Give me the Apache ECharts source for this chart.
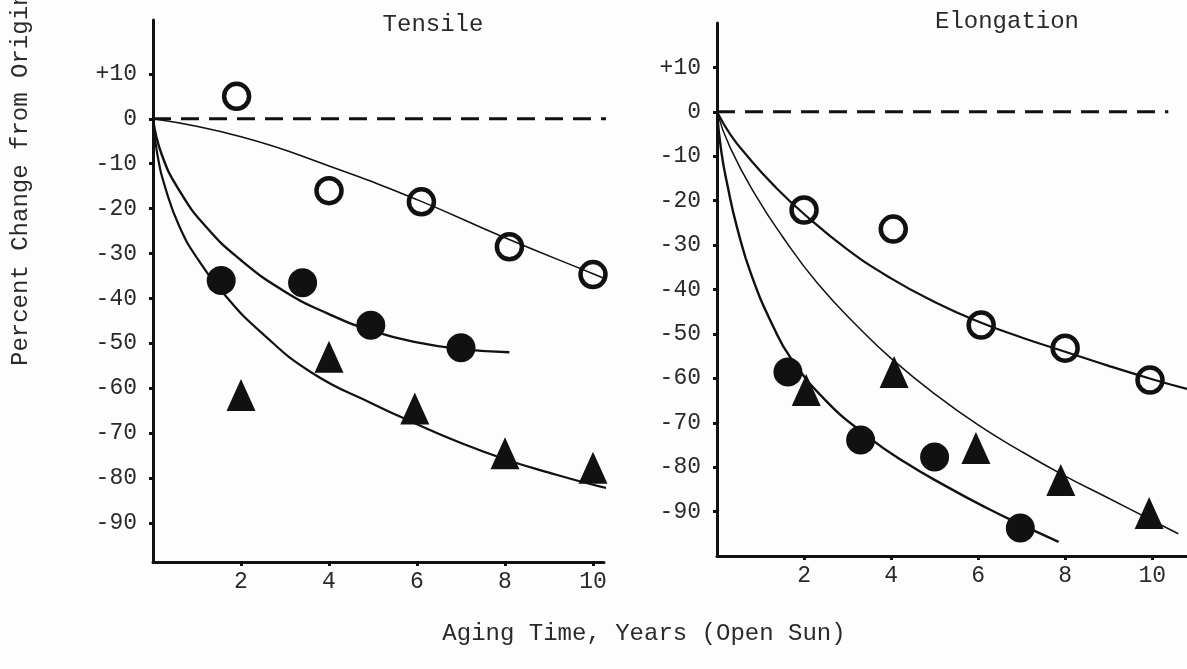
<!DOCTYPE html>
<html>
<head>
<meta charset="utf-8">
<script src="https://cdn.jsdelivr.net/npm/echarts@6/dist/echarts.min.js"></script>
<style>
  html, body { margin: 0; padding: 0; background: #fdfdfd; }
  #chart { width: 1187px; height: 669px; }
</style>
</head>
<body>
<div id="chart"></div>
<script>
// Axis ticks (years and percent change)
const yearTicks = [2, 4, 6, 8, 10];
const percentTicks = [10, 0, -10, -20, -30, -40, -50, -60, -70, -80, -90];

// Panel titles and axis names
const panelTitles = ['Tensile', 'Elongation'];
const xName = 'Aging Time, Years (Open Sun)';
const yName = 'Percent Change from Original';

// Tensile: measured points [years, % change]
const tensileOpenPts = [[1.9, 5], [4, -16], [6.1, -18.5], [8.1, -28.5], [10, -34.7]];
const tensileFilledPts = [[1.55, -36], [3.4, -36.5], [4.95, -46], [7, -51]];
const tensileTrianglePts = [[2, -61.5], [4, -53], [5.95, -64.5], [8, -74.5], [10, -77.7]];

// Tensile: hand-fitted trend curves
const tensileOpenCurve = [[0, 0], [2, -4], [4, -10.5], [6, -18], [8, -26.5], [10, -34.5], [10.95, -38.3]];
const tensileFilledCurve = [[0, 0], [0.2, -8], [0.6, -16], [1.2, -24], [2, -31.5], [3, -38.5], [4, -43.5], [5, -47.3], [6, -49.8], [7, -51.3], [8.1, -52]];
const tensileTriangleCurve = [[0, 0], [0.1, -8], [0.3, -16], [0.6, -24], [1, -31], [1.7, -40], [2.45, -47.5], [3.6, -56.5], [5, -63.5], [6, -68], [7, -72.2], [8, -75.8], [9, -78.8], [10, -81.5], [10.8, -83.3]];
const tensileBaseline = [[0, 0], [10.43, 0]];

// Elongation: measured points
const elongOpenPts = [[2, -22.1], [4.05, -26.4], [6.07, -48], [8, -53.2], [9.95, -60.4]];
const elongFilledPts = [[1.63, -58.6], [3.3, -73.9], [5, -77.7], [6.97, -93.7]];
const elongTrianglePts = [[2.05, -62.6], [4.07, -58.6], [5.95, -75.7], [7.9, -82.9], [9.93, -90.3]];

// Elongation: hand-fitted trend curves
const elongOpenCurve = [[0, 0], [0.3, -5], [0.7, -10], [1.3, -16.5], [2, -23], [3, -31], [4, -37.5], [5, -42.8], [6, -47.2], [7, -50.8], [8, -54], [9, -57.2], [10, -60.2], [10.8, -62.4]];
const elongTriangleCurve = [[0, 0], [0.3, -8], [0.9, -19], [1.5, -28], [2.3, -38.5], [3.3, -49], [4, -55.5], [5, -63.5], [6, -70.5], [7, -76.5], [8, -82], [9, -87], [10, -92], [10.6, -95]];
const elongFilledCurve = [[0, 0], [0.1, -9], [0.25, -17], [0.46, -26], [0.8, -37], [1.3, -48.5], [1.7, -55.5], [2.5, -65], [3.45, -73], [4.3, -78.8], [5.3, -84.5], [6.2, -89.2], [7, -93], [7.85, -96.8]];
const elongBaseline = [[0, 0], [10.37, 0]];

const FONT = "'Liberation Mono', 'DejaVu Sans Mono', monospace";
const INK = '#111';
const TEXT = '#2a2a2a';

function xAxisFor(gridIndex, max) {
  return {
    type: 'value', gridIndex, min: 0, max,
    axisLine: { show: true, onZero: false, lineStyle: { color: INK, width: 3 } },
    axisTick: { show: true, customValues: yearTicks, length: 4, lineStyle: { color: INK, width: 3 } },
    axisLabel: { customValues: yearTicks, margin: 8, color: TEXT, fontFamily: FONT, fontSize: 23 },
    splitLine: { show: false }
  };
}
function yAxisFor(gridIndex, min, max) {
  return {
    type: 'value', gridIndex, min, max,
    axisLine: { show: true, onZero: false, lineStyle: { color: INK, width: 3 } },
    axisTick: { show: true, customValues: percentTicks, length: 4, lineStyle: { color: INK, width: 3 } },
    axisLabel: {
      customValues: percentTicks, margin: 16, color: TEXT, fontFamily: FONT, fontSize: 23,
      formatter: v => (v > 0 ? '+' + v : String(v))
    },
    splitLine: { show: false }
  };
}
function curve(idx, data, width) {
  return {
    type: 'line', xAxisIndex: idx, yAxisIndex: idx, data, symbol: 'none',
    smooth: 0.5, clip: false, z: 2,
    lineStyle: { color: INK, width }
  };
}
function baseline(idx, data) {
  return {
    type: 'line', xAxisIndex: idx, yAxisIndex: idx, data, symbol: 'none', clip: false, z: 1,
    lineStyle: { color: INK, width: 3, type: [18, 10] }
  };
}
function marks(idx, data, kind) {
  const s = { type: 'scatter', xAxisIndex: idx, yAxisIndex: idx, data, clip: false, z: 5 };
  if (kind === 'open') {
    s.symbol = 'circle'; s.symbolSize = 25;
    s.itemStyle = { color: 'rgba(0,0,0,0)', borderColor: INK, borderWidth: 4.5, opacity: 1 };
  } else if (kind === 'filled') {
    s.symbol = 'circle'; s.symbolSize = 29;
    s.itemStyle = { color: INK, opacity: 1 };
  } else {
    s.symbol = 'triangle'; s.symbolSize = [29, 32];
    s.itemStyle = { color: INK, opacity: 1 };
  }
  return s;
}

const chart = echarts.init(document.getElementById('chart'), null, { renderer: 'canvas' });
chart.setOption({
  backgroundColor: '#fdfdfd',
  animation: false,
  grid: [
    { left: 153, top: 20, width: 451, height: 542, containLabel: false },
    { left: 717, top: 23, width: 470, height: 533, containLabel: false }
  ],
  xAxis: [xAxisFor(0, 10.25), xAxisFor(1, 10.8)],
  yAxis: [yAxisFor(0, -98.7, 22), yAxisFor(1, -100, 20)],
  series: [
    baseline(0, tensileBaseline),
    curve(0, tensileOpenCurve, 1.6),
    curve(0, tensileFilledCurve, 2.4),
    curve(0, tensileTriangleCurve, 2.2),
    marks(0, tensileOpenPts, 'open'),
    marks(0, tensileFilledPts, 'filled'),
    marks(0, tensileTrianglePts, 'triangle'),
    baseline(1, elongBaseline),
    curve(1, elongOpenCurve, 2.2),
    curve(1, elongTriangleCurve, 1.5),
    curve(1, elongFilledCurve, 2.4),
    marks(1, elongOpenPts, 'open'),
    marks(1, elongFilledPts, 'filled'),
    marks(1, elongTrianglePts, 'triangle')
  ],
  graphic: [
    { type: 'text', x: 433, y: 25, style: { text: panelTitles[0], textAlign: 'center', textVerticalAlign: 'middle', fill: TEXT, font: '24px ' + FONT } },
    { type: 'text', x: 1007, y: 22, style: { text: panelTitles[1], textAlign: 'center', textVerticalAlign: 'middle', fill: TEXT, font: '24px ' + FONT } },
    { type: 'text', x: 644, y: 634, style: { text: xName, textAlign: 'center', textVerticalAlign: 'middle', fill: TEXT, font: '24px ' + FONT } },
    { type: 'text', x: 21, y: 366, rotation: Math.PI / 2, style: { text: yName, textAlign: 'left', textVerticalAlign: 'middle', fill: TEXT, font: '24px ' + FONT } }
  ]
});
</script>
</body>
</html>
